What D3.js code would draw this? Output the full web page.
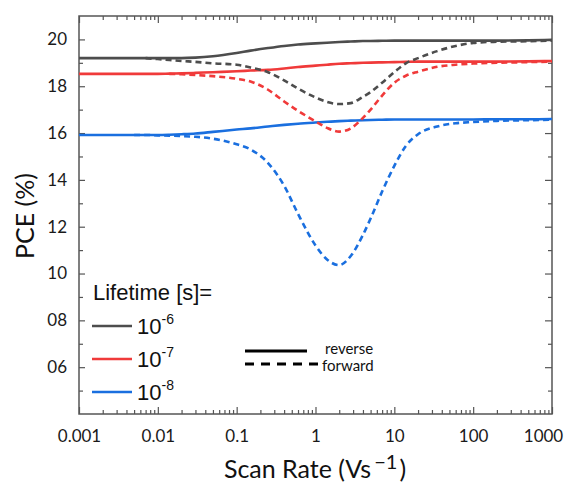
<!DOCTYPE html>
<html>
<head>
<meta charset="utf-8">
<script src="https://cdn.jsdelivr.net/npm/d3@7"></script>
<style>
  html, body { margin: 0; padding: 0; background: #fff; }
  svg { display: block; }
</style>
</head>
<body>
<svg id="chart" width="568" height="485"></svg>
<script>
// ---------------- DATA ----------------
const scanRates = [0.001, 0.002, 0.005, 0.007, 0.01, 0.014, 0.02, 0.03, 0.05, 0.1, 0.15, 0.25, 0.4, 0.6, 1, 1.4, 2, 2.8, 4, 5, 7, 10, 14, 20, 35, 60, 100, 200, 500, 1000];

const rev6 = [19.2, 19.2, 19.2, 19.2, 19.2, 19.2, 19.2, 19.22, 19.28, 19.42, 19.52, 19.63, 19.72, 19.78, 19.83, 19.86, 19.89, 19.91, 19.93, 19.93, 19.94, 19.95, 19.95, 19.95, 19.95, 19.95, 19.95, 19.95, 19.96, 19.98];
const fwd6 = [null, null, null, 19.2, 19.16, 19.12, 19.08, 19.04, 18.98, 18.92, 18.8, 18.6, 18.25, 17.9, 17.52, 17.33, 17.24, 17.28, 17.55, 17.75, 18.15, 18.6, 18.98, 19.2, 19.5, 19.72, 19.85, 19.9, 19.92, 19.95];

const rev7 = [18.53, 18.53, 18.53, 18.53, 18.53, 18.54, 18.55, 18.57, 18.6, 18.64, 18.67, 18.7, 18.76, 18.82, 18.88, 18.92, 18.96, 18.98, 19.0, 19.01, 19.02, 19.03, 19.04, 19.05, 19.05, 19.05, 19.05, 19.05, 19.06, 19.08];
const fwd7 = [null, null, null, null, null, 18.53, 18.51, 18.48, 18.43, 18.32, 18.2, 17.85, 17.35, 16.95, 16.5, 16.22, 16.06, 16.2, 16.65, 17.0, 17.6, 18.15, 18.45, 18.62, 18.83, 18.92, 18.97, 19.0, 19.03, 19.05];

const rev8 = [15.92, 15.92, 15.92, 15.92, 15.92, 15.93, 15.95, 15.98, 16.05, 16.15, 16.2, 16.28, 16.35, 16.4, 16.45, 16.48, 16.51, 16.53, 16.55, 16.56, 16.57, 16.58, 16.58, 16.58, 16.58, 16.58, 16.58, 16.59, 16.59, 16.6];
const fwd8 = [null, null, 15.92, 15.92, 15.9, 15.89, 15.87, 15.84, 15.76, 15.52, 15.3, 14.72, 13.75, 12.55, 11.2, 10.6, 10.36, 10.75, 11.65, 12.35, 13.5, 14.6, 15.45, 15.95, 16.28, 16.42, 16.47, 16.52, 16.55, 16.57];

const lifetimeLabels = ["-6", "-7", "-8"];
const seriesColors = ["#4d4d4d", "#f03a3a", "#1a6fdf"];

const xTickValues = [0.001, 0.01, 0.1, 1, 10, 100, 1000];
const xTickLabels = ["0.001", "0.01", "0.1", "1", "10", "100", "1000"];
const yTickValues = [6, 8, 10, 12, 14, 16, 18, 20];
const yTickLabels = ["06", "08", "10", "12", "14", "16", "18", "20"];

// ---------------- LAYOUT ----------------
const svg = d3.select("#chart");
const L = 79, R = 552, T = 16, B = 414;
const x = d3.scaleLog().domain([0.001, 1000]).range([L, R]);
const y = d3.scaleLinear().domain([4, 21]).range([B, T]);

const frameColor = "#555";
const tickFont = "Lato, 'Open Sans', sans-serif";

// minor ticks
const xMinor = [];
for (let e = -3; e < 3; e++) for (let m = 2; m <= 9; m++) xMinor.push(m * Math.pow(10, e));
const yMinor = [5, 7, 9, 11, 13, 15, 17, 19];

function styleAxis(g) {
  g.select(".domain").remove();
  g.selectAll(".tick line").attr("stroke", frameColor).attr("stroke-width", 1.2);
}

// bottom major with labels
svg.append("g").attr("transform", `translate(0,${B})`)
  .call(d3.axisBottom(x).tickValues(xTickValues).tickSizeInner(-7).tickSizeOuter(0).tickPadding(16)
    .tickFormat((d, i) => xTickLabels[i]))
  .call(styleAxis)
  .call(g => g.selectAll("text").attr("font-family", tickFont).attr("font-size", 17).attr("fill", "#1a1a1a")
    .attr("dx", (d, i) => i === xTickLabels.length - 1 ? -9 : 0));
svg.append("g").attr("transform", `translate(0,${B})`)
  .call(d3.axisBottom(x).tickValues(xMinor).tickSizeInner(-4).tickSizeOuter(0).tickFormat(""))
  .call(styleAxis);
// top
svg.append("g").attr("transform", `translate(0,${T})`)
  .call(d3.axisTop(x).tickValues(xTickValues).tickSizeInner(-7).tickSizeOuter(0).tickFormat(""))
  .call(styleAxis);
svg.append("g").attr("transform", `translate(0,${T})`)
  .call(d3.axisTop(x).tickValues(xMinor).tickSizeInner(-4).tickSizeOuter(0).tickFormat(""))
  .call(styleAxis);
// left
svg.append("g").attr("transform", `translate(${L},0)`)
  .call(d3.axisLeft(y).tickValues(yTickValues).tickSizeInner(-6).tickSizeOuter(0).tickPadding(12)
    .tickFormat((d, i) => yTickLabels[i]))
  .call(styleAxis)
  .call(g => g.selectAll("text").attr("font-family", tickFont).attr("font-size", 17).attr("fill", "#1a1a1a"));
svg.append("g").attr("transform", `translate(${L},0)`)
  .call(d3.axisLeft(y).tickValues(yMinor).tickSizeInner(-4).tickSizeOuter(0).tickFormat(""))
  .call(styleAxis);
// right
svg.append("g").attr("transform", `translate(${R},0)`)
  .call(d3.axisRight(y).tickValues(yTickValues).tickSizeInner(-7).tickSizeOuter(0).tickFormat(""))
  .call(styleAxis);
svg.append("g").attr("transform", `translate(${R},0)`)
  .call(d3.axisRight(y).tickValues(yMinor).tickSizeInner(-4).tickSizeOuter(0).tickFormat(""))
  .call(styleAxis);

// frame
svg.append("rect").attr("x", L).attr("y", T).attr("width", R - L).attr("height", B - T)
  .attr("fill", "none").attr("stroke", frameColor).attr("stroke-width", 1.5);

// clip
svg.append("clipPath").attr("id", "clip").append("rect")
  .attr("x", L).attr("y", T).attr("width", R - L).attr("height", B - T);

const line = d3.line()
  .defined(d => d[1] != null)
  .x(d => x(d[0])).y(d => y(d[1]))
  .curve(d3.curveMonotoneX);

const plot = svg.append("g").attr("clip-path", "url(#clip)");
const revSeries = [rev6, rev7, rev8];
const fwdSeries = [fwd6, fwd7, fwd8];

revSeries.forEach((vals, i) => {
  plot.append("path")
    .attr("d", line(scanRates.map((s, j) => [s, vals[j]])))
    .attr("fill", "none").attr("stroke", seriesColors[i]).attr("stroke-width", 2.6);
});
fwdSeries.forEach((vals, i) => {
  plot.append("path")
    .attr("d", line(scanRates.map((s, j) => [s, vals[j]])))
    .attr("fill", "none").attr("stroke", seriesColors[i]).attr("stroke-width", 2.6)
    .attr("stroke-dasharray", "6,4");
});

// axis titles
svg.append("text")
  .attr("transform", `translate(34,216) rotate(-90)`)
  .attr("text-anchor", "middle")
  .attr("font-family", tickFont).attr("font-size", 25).attr("fill", "#111")
  .text("PCE (%)");

const xt = svg.append("text")
  .attr("x", 315).attr("y", 478)
  .attr("text-anchor", "middle")
  .attr("font-family", tickFont).attr("font-size", 25).attr("fill", "#111");
xt.append("tspan").text("Scan Rate (Vs");
xt.append("tspan").attr("dy", -9).attr("dx", 3).attr("font-size", 20).text("\u22121");
xt.append("tspan").attr("dy", 9).attr("dx", 2).text(")");

// lifetime legend
const legFont = "'Liberation Sans', Arial, sans-serif";
svg.append("text").attr("x", 93).attr("y", 300)
  .attr("font-family", legFont).attr("font-size", 22).attr("fill", "#111")
  .text("Lifetime [s]=");
const legY = [326, 359, 392];
lifetimeLabels.forEach((lab, i) => {
  svg.append("line").attr("x1", 92).attr("x2", 132).attr("y1", legY[i]).attr("y2", legY[i])
    .attr("stroke", seriesColors[i]).attr("stroke-width", 2.6);
  const t = svg.append("text").attr("x", 137).attr("y", legY[i] + 8)
    .attr("font-family", legFont).attr("font-size", 22).attr("fill", "#111");
  t.append("tspan").text("10");
  t.append("tspan").attr("dy", -10).attr("font-size", 14).text(lab);
});

// reverse / forward legend
svg.append("line").attr("x1", 245).attr("x2", 307).attr("y1", 351).attr("y2", 351)
  .attr("stroke", "#000").attr("stroke-width", 3);
svg.append("line").attr("x1", 245).attr("x2", 319).attr("y1", 364).attr("y2", 364)
  .attr("stroke", "#000").attr("stroke-width", 3).attr("stroke-dasharray", "9,7");
svg.append("text").attr("x", 325).attr("y", 354)
  .attr("font-family", tickFont).attr("font-size", 15).attr("fill", "#111").text("reverse");
svg.append("text").attr("x", 322).attr("y", 371)
  .attr("font-family", tickFont).attr("font-size", 15).attr("fill", "#111").text("forward");
</script>
</body>
</html>
